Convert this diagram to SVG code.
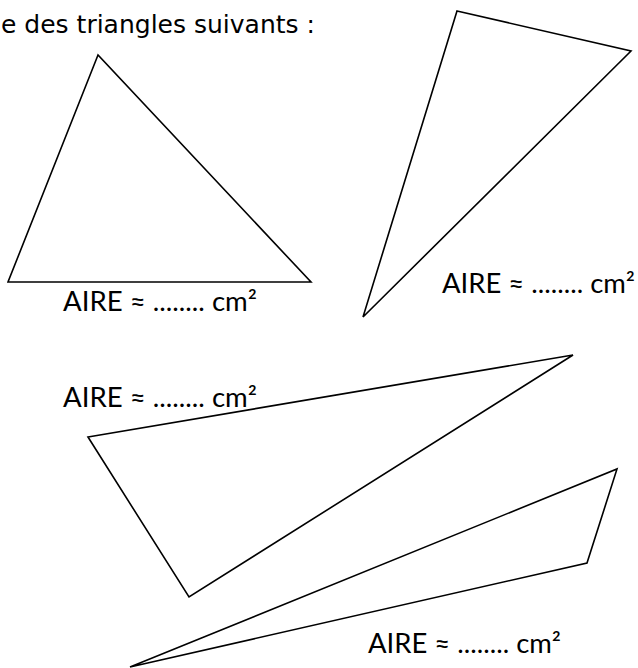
<svg xmlns="http://www.w3.org/2000/svg" width="638" height="668" viewBox="0 0 638 668">
<style>
.tri{fill:none;stroke:#000;stroke-width:1.6;stroke-linejoin:miter}
.lbl{font-family:Lato,"Liberation Sans",sans-serif;font-size:26px;fill:#000}
.title{font-family:"DejaVu Sans","Liberation Sans",sans-serif;font-size:25px;fill:#000}
</style>
<rect width="638" height="668" fill="#fff"/>
<text class="title" x="1" y="33" textLength="314" lengthAdjust="spacingAndGlyphs">e des triangles suivants :</text>
<g id="connectors">
<polygon id="tri1" class="tri" points="98,55 8,282 311,282"/>
<polygon id="tri2" class="tri" points="457,11 631,51 363,317"/>
<polygon id="tri3" class="tri" points="88,437 573,355 189,597"/>
<polygon id="tri4" class="tri" points="130,667 617,469 587,563"/>
</g>
<g id="label1"><text class="lbl" x="63" y="311" textLength="194" lengthAdjust="spacingAndGlyphs">AIRE ≈ ........ cm²</text></g>
<g id="label2"><text class="lbl" x="442" y="293" textLength="193" lengthAdjust="spacingAndGlyphs">AIRE ≈ ........ cm²</text></g>
<g id="label3"><text class="lbl" x="63" y="407" textLength="194" lengthAdjust="spacingAndGlyphs">AIRE ≈ ........ cm²</text></g>
<g id="label4"><text class="lbl" x="368" y="653" textLength="193" lengthAdjust="spacingAndGlyphs">AIRE ≈ ........ cm²</text></g>
</svg>
